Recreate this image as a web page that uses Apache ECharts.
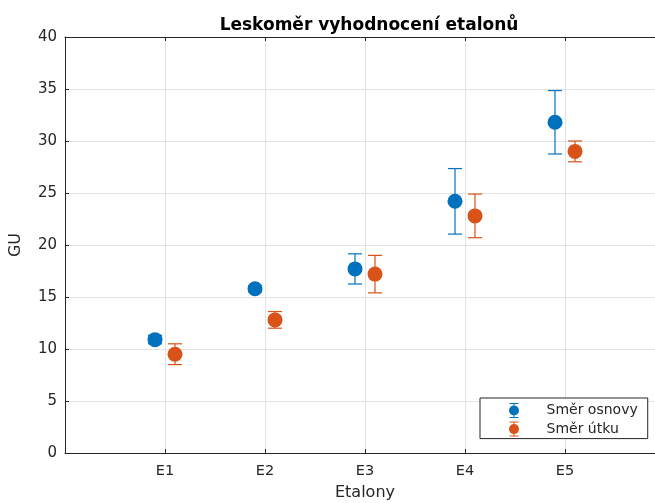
<!DOCTYPE html>
<html>
<head>
<meta charset="utf-8">
<script src="https://cdn.jsdelivr.net/npm/echarts@6/dist/echarts.min.js"></script>
<style>html,body{margin:0;padding:0;background:#fff}#chart{width:655px;height:503px}</style>
</head>
<body>
<div id="chart"></div>
<script>
// Data
const categories = ['E1', 'E2', 'E3', 'E4', 'E5'];
const osnovaMean = [10.9, 15.8, 17.7, 24.2, 31.8];
const osnovaErr  = [0.4, 0.3, 1.45, 3.15, 3.05];
const utekMean   = [9.5, 12.8, 17.2, 22.8, 29.0];
const utekErr    = [1.0, 0.8, 1.8, 2.1, 1.0];
const seriesNames = ['Směr osnovy', 'Směr útku'];
const yTicks = [0, 5, 10, 15, 20, 25, 30, 35, 40];

const BLUE = '#0072BD', ORANGE = '#D95319', AX = '#262626';
const FONT = 'DejaVu Sans';
const OFFSET = 0.1;

function points(means, dx) {
  return means.map((m, i) => [i + 1 + dx, m]);
}
function bars(means, errs, dx) {
  return means.map((m, i) => [i + 1 + dx, m - errs[i], m + errs[i]]);
}
function errRender(color) {
  return function (params, api) {
    const x = api.value(0);
    const lo = api.coord([x, api.value(1)]);
    const hi = api.coord([x, api.value(2)]);
    const cw = 7;
    const st = { stroke: color, lineWidth: 1.2 };
    return {
      type: 'group',
      children: [
        { type: 'line', shape: { x1: lo[0], y1: lo[1], x2: hi[0], y2: hi[1] }, style: st },
        { type: 'line', shape: { x1: hi[0] - cw, y1: hi[1], x2: hi[0] + cw, y2: hi[1] }, style: st },
        { type: 'line', shape: { x1: lo[0] - cw, y1: lo[1], x2: lo[0] + cw, y2: lo[1] }, style: st }
      ]
    };
  };
}
const iconPath = 'path://M1,0h9v1h-9z M5,1h1v1.5h-1z M5,12.5h1v1.5h-1z M1,14h9v1h-9z M0.5,7.5a5,5 0 1,0 10,0a5,5 0 1,0 -10,0z';

const chart = echarts.init(document.getElementById('chart'), null, { renderer: 'canvas' });
chart.setOption({
  animation: false,
  backgroundColor: '#fff',
  title: {
    text: 'Leskoměr vyhodnocení etalonů',
    left: 364, top: 12, textAlign: 'center',
    textStyle: { fontFamily: FONT, fontSize: 17, fontWeight: 'bold', color: '#000' }
  },
  grid: { left: 65, top: 37, right: -10, bottom: 50, containLabel: false, outerBoundsMode: 'none' },
  legend: {
    orient: 'vertical',
    left: 480, top: 398,
    padding: [5, 10, 2, 29],
    itemWidth: 11, itemHeight: 15, itemGap: 3.6,
    borderColor: AX, borderWidth: 1, backgroundColor: '#fff',
    textStyle: { fontFamily: FONT, fontSize: 14, color: AX, padding: [0, 0, 0, 22] },
    data: [
      { name: seriesNames[0], icon: iconPath, itemStyle: { color: BLUE } },
      { name: seriesNames[1], icon: iconPath, itemStyle: { color: ORANGE } }
    ]
  },
  xAxis: [{
    type: 'value', min: 0, max: 6, interval: 1,
    name: 'Etalony', nameLocation: 'middle', nameGap: 32,
    nameTextStyle: { fontFamily: FONT, fontSize: 16, color: AX },
    axisLine: { show: true, lineStyle: { color: AX, width: 1 } },
    axisTick: { show: true, inside: true, length: 4, lineStyle: { color: AX } },
    axisLabel: {
      margin: 11, fontFamily: FONT, fontSize: 14.5, color: AX,
      formatter: v => categories[v - 1] || ''
    },
    splitLine: { show: true, lineStyle: { color: '#e2e2e2', width: 1 } }
  }, {
    type: 'value', position: 'top', min: 0, max: 6, interval: 1,
    axisLine: { show: true, lineStyle: { color: AX, width: 1 } },
    axisTick: { show: true, inside: true, length: 4, lineStyle: { color: AX } },
    axisLabel: { show: false },
    splitLine: { show: false }
  }],
  yAxis: {
    type: 'value', min: yTicks[0], max: yTicks[yTicks.length - 1], interval: 5,
    name: 'GU', nameLocation: 'middle', nameGap: 41,
    nameTextStyle: { fontFamily: FONT, fontSize: 16, color: AX },
    axisLine: { show: true, lineStyle: { color: AX, width: 1 } },
    axisTick: { show: true, inside: true, length: 4, lineStyle: { color: AX } },
    axisLabel: { margin: 8, fontFamily: FONT, fontSize: 15, color: AX },
    splitLine: { show: true, lineStyle: { color: '#e2e2e2', width: 1 } }
  },
  series: [
    {
      name: seriesNames[0], type: 'custom', renderItem: errRender(BLUE),
      data: bars(osnovaMean, osnovaErr, -OFFSET), encode: { x: 0, y: [1, 2] }, z: 2
    },
    {
      name: seriesNames[0], type: 'scatter', symbol: 'circle', symbolSize: 15,
      itemStyle: { color: BLUE, opacity: 1 }, data: points(osnovaMean, -OFFSET), z: 3
    },
    {
      name: seriesNames[1], type: 'custom', renderItem: errRender(ORANGE),
      data: bars(utekMean, utekErr, OFFSET), encode: { x: 0, y: [1, 2] }, z: 4
    },
    {
      name: seriesNames[1], type: 'scatter', symbol: 'circle', symbolSize: 15,
      itemStyle: { color: ORANGE, opacity: 1 }, data: points(utekMean, OFFSET), z: 5
    }
  ]
});
</script>
</body>
</html>
